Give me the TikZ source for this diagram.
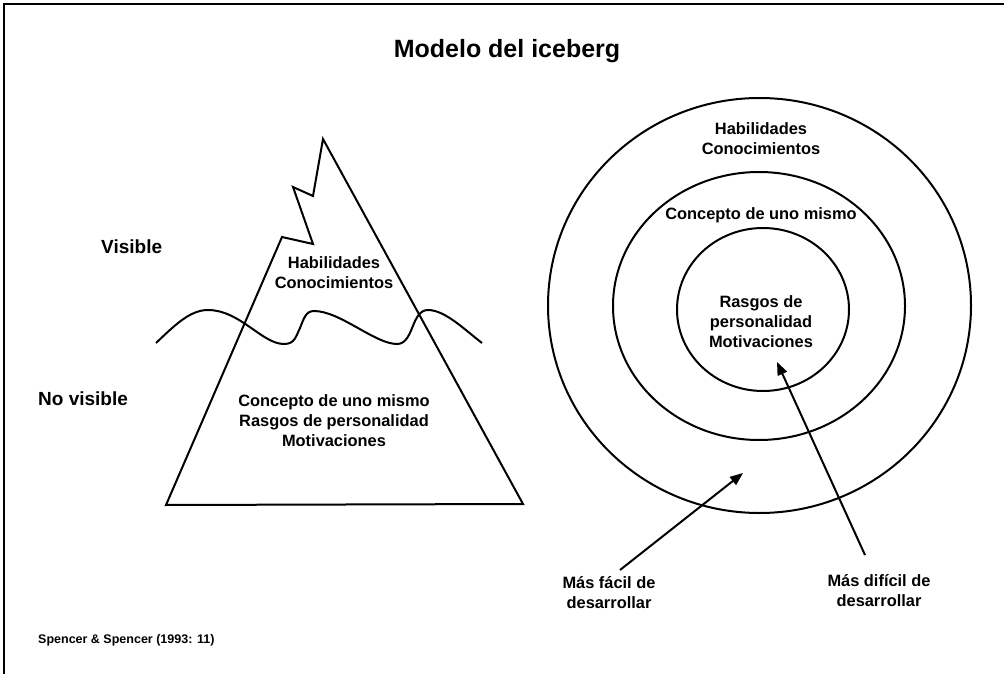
\documentclass[tikz,border=0pt]{standalone}
\usepackage{fontspec}
\setmainfont{Liberation Sans}
\usetikzlibrary{arrows.meta}
\tikzset{
  lbl/.style = {
    font=\fontsize{16.4}{20}\selectfont\bfseries,
    align=center, inner sep=0pt
  },
  sidelbl/.style = {
    font=\fontsize{19}{22}\selectfont\bfseries,
    anchor=west, inner sep=0pt
  },
  titlelbl/.style = {font=\fontsize{25}{30}\selectfont\bfseries, inner sep=0pt},
  srclbl/.style = {
    font=\fontsize{12.5}{15}\selectfont\bfseries,
    anchor=west, inner sep=0pt
  },
  outline/.style = {line width=2pt, line join=miter},
  arr/.style  = {-{Triangle[length=13pt, width=10pt]}, line width=2pt},
  frame/.style = {line width=1.3pt},
}

\begin{document}
\begin{tikzpicture}[x=1pt, y=-1pt]

  \useasboundingbox (0,0) rectangle (1004,674);
  \draw[frame] (1004,4) -- (4,4) -- (4,674);

  \node[titlelbl] (title) at (507,51) {Modelo del iceberg};

  %% Iceberg
  \draw[outline] (166,505) -- (282,237) -- (313,244) -- (293,187)
    -- (313,196) -- (323,139) -- (523,504) -- cycle;
  \draw[outline] (156,343) .. controls (175,325) and (190,310) .. (208,310)
    .. controls (240,310) and (262,344) .. (284,344)
    .. controls (295,344) and (296,336) .. (300,328)
    .. controls (304,318) and (306,311) .. (314,311)
    .. controls (340,311) and (375,344) .. (397,344)
    .. controls (414,344) and (411,310) .. (428,310)
    .. controls (445,310) and (465,330) .. (482,343);

  \node[sidelbl] (vis) at (101,247) {Visible};
  \node[sidelbl] (novis) at (38,399) {No visible};
  \node[lbl] (upper) at (334,273) {Habilidades\\Conocimientos};
  \node[lbl] (lower) at (334,421)
    {Concepto de uno mismo\\Rasgos de personalidad\\Motivaciones};

  %% Rings
  \draw[outline] (759.5,305.5) ellipse [x radius=211.5pt, y radius=207.5pt];
  \draw[outline] (759,306) ellipse [x radius=146pt, y radius=134pt];
  \draw[outline] (763,309.5) ellipse [x radius=86pt, y radius=81.5pt];

  \node[lbl] (ring1) at (761,139) {Habilidades\\Conocimientos};
  \node[lbl] (ring2) at (761,215) {Concepto de uno mismo};
  \node[lbl] (ring3) at (761,322) {Rasgos de\\personalidad\\Motivaciones};

  %% Arrows
  \node[lbl] (easy) at (609,593) {Más fácil de\\desarrollar};
  \node[lbl] (hard) at (879,591) {Más difícil de\\desarrollar};
  \coordinate (easytail) at (620,570);
  \coordinate (easytip) at (743,473);
  \coordinate (hardtail) at (865,555);
  \coordinate (hardtip) at (777,362);
  \draw[arr] (easytail) -- (easytip);
  \draw[arr] (hardtail) -- (hardtip);

  \node[srclbl] (src) at (38,640) {Spencer \& Spencer (1993: 11)};

\end{tikzpicture}
\end{document}
